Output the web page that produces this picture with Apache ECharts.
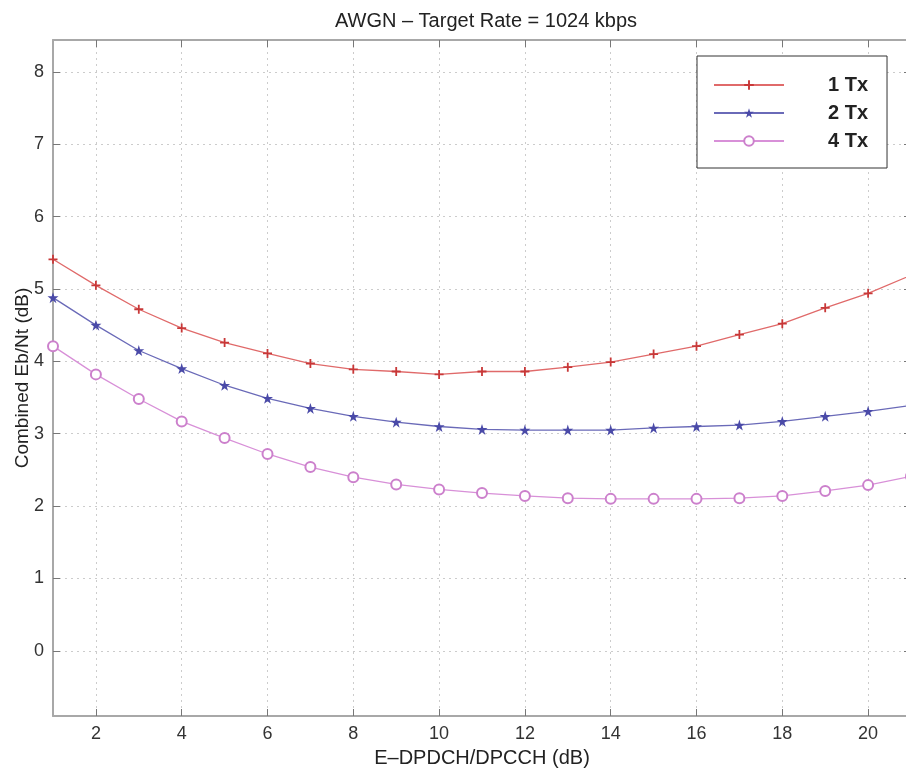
<!DOCTYPE html>
<html>
<head>
<meta charset="utf-8">
<script src="https://cdn.jsdelivr.net/npm/echarts@6/dist/echarts.min.js"></script>
<style>
  html, body { margin: 0; padding: 0; background: #fff; }
  #chart { width: 906px; height: 774px; }
</style>
</head>
<body>
<div id="chart"></div>
<script>
// E-DPDCH/DPCCH power offset (dB)
const offsets = [1, 2, 3, 4, 5, 6, 7, 8, 9, 10, 11, 12, 13, 14, 15, 16, 17, 18, 19, 20, 21];

// Combined Eb/Nt (dB) per transmit-antenna count
const tx1 = [5.41, 5.05, 4.72, 4.46, 4.26, 4.11, 3.97, 3.89, 3.86, 3.82, 3.86, 3.86, 3.92, 3.99, 4.10, 4.21, 4.37, 4.52, 4.74, 4.94, 5.19];
const tx2 = [4.88, 4.50, 4.15, 3.90, 3.67, 3.49, 3.35, 3.24, 3.16, 3.10, 3.06, 3.05, 3.05, 3.05, 3.08, 3.10, 3.12, 3.17, 3.24, 3.31, 3.39];
const tx4 = [4.21, 3.82, 3.48, 3.17, 2.94, 2.72, 2.54, 2.40, 2.30, 2.23, 2.18, 2.14, 2.11, 2.10, 2.10, 2.10, 2.11, 2.14, 2.21, 2.29, 2.41];

const seriesNames = ['1 Tx', '2 Tx', '4 Tx'];

// Tick positions
const xTicks = [2, 4, 6, 8, 10, 12, 14, 16, 18, 20];
const yTicks = [0, 1, 2, 3, 4, 5, 6, 7, 8];

const FONT = 'Liberation Sans, Arial, Helvetica, sans-serif';
const frameColor = '#a8a8a8';
const gridLine = { show: true, lineStyle: { color: '#cccccc', type: [2, 4], width: 1 } };

const plusPath = 'path://M4,0 L6,0 L6,4 L10,4 L10,6 L6,6 L6,10 L4,10 L4,6 L0,6 L0,4 L4,4 Z';
const starPath = 'path://M50,0 L61.8,36.2 L100,36.2 L69.1,58.8 L80.9,95.1 L50,72.7 L19.1,95.1 L30.9,58.8 L0,36.2 L38.2,36.2 Z';

function pairs(ys) { return offsets.map((x, i) => [x, ys[i]]); }

function frameAxis(extra) {
  return Object.assign({
    type: 'value',
    axisLine: { show: true, onZero: false, lineStyle: { color: frameColor, width: 2 } },
    axisLabel: { show: false },
    splitLine: { show: false }
  }, extra);
}

const chart = echarts.init(document.getElementById('chart'), null, { renderer: 'canvas' });

chart.setOption({
  animation: false,
  backgroundColor: '#fff',
  title: {
    text: 'AWGN \u2013 Target Rate = 1024 kbps',
    left: 481,
    top: 6,
    textAlign: 'center',
    textStyle: { fontFamily: FONT, fontSize: 20, fontWeight: 'normal', color: '#222' }
  },
  grid: { left: 53, right: -5, top: 40, bottom: 58, containLabel: false, outerBoundsMode: 'none' },
  legend: {
    orient: 'vertical',
    left: 697,
    top: 56,
    padding: [19, 19, 17, 16],
    itemWidth: 70,
    itemHeight: 12,
    itemGap: 8,
    backgroundColor: '#fff',
    borderColor: '#333',
    borderWidth: 1,
    textStyle: { fontFamily: FONT, fontSize: 20, fontWeight: 'bold', color: '#222', lineHeight: 20, padding: [0, 0, 0, 39] },
    data: seriesNames
  },
  xAxis: [frameAxis({
    min: 1,
    max: 21,
    name: 'E\u2013DPDCH/DPCCH (dB)',
    nameLocation: 'middle',
    nameGap: 32,
    nameTextStyle: { fontFamily: FONT, fontSize: 20, color: '#222' },
    axisTick: { show: true, inside: true, length: 7, customValues: xTicks, lineStyle: { color: '#777' } },
    axisLabel: { customValues: xTicks, fontFamily: FONT, fontSize: 18, color: '#333', margin: 9 },
    splitLine: gridLine
  }), frameAxis({
    position: 'top',
    min: 1,
    max: 21,
    axisTick: { show: true, inside: true, length: 7, customValues: xTicks, lineStyle: { color: '#777' } }
  })],
  yAxis: [frameAxis({
    min: -0.9,
    max: 8.44,
    name: 'Combined Eb/Nt (dB)',
    nameLocation: 'middle',
    nameGap: 21,
    nameMoveOverlap: false,
    nameTextStyle: { fontFamily: FONT, fontSize: 19, color: '#222' },
    axisTick: { show: true, inside: true, length: 7, customValues: yTicks, lineStyle: { color: '#777' } },
    axisLabel: { customValues: yTicks, fontFamily: FONT, fontSize: 18, color: '#333', margin: 9 },
    splitLine: gridLine
  }), frameAxis({
    position: 'right',
    min: -0.9,
    max: 8.44,
    axisTick: { show: true, inside: true, length: 7, customValues: yTicks, lineStyle: { color: '#777' } }
  })],
  series: [{
    name: seriesNames[0],
    type: 'line',
    data: pairs(tx1),
    symbol: plusPath,
    symbolSize: 9,
    itemStyle: { color: '#c83838' },
    lineStyle: { color: '#e06a6a', width: 1.3 }
  }, {
    name: seriesNames[1],
    type: 'line',
    data: pairs(tx2),
    symbol: starPath,
    symbolSize: 11,
    itemStyle: { color: '#4a4aa8' },
    lineStyle: { color: '#6a6ab8', width: 1.3 }
  }, {
    name: seriesNames[2],
    type: 'line',
    data: pairs(tx4),
    symbol: 'emptyCircle',
    symbolSize: 10,
    itemStyle: { color: '#cc80cc', borderWidth: 1.2 },
    lineStyle: { color: '#d890d8', width: 1.3 }
  }]
});
</script>
</body>
</html>
